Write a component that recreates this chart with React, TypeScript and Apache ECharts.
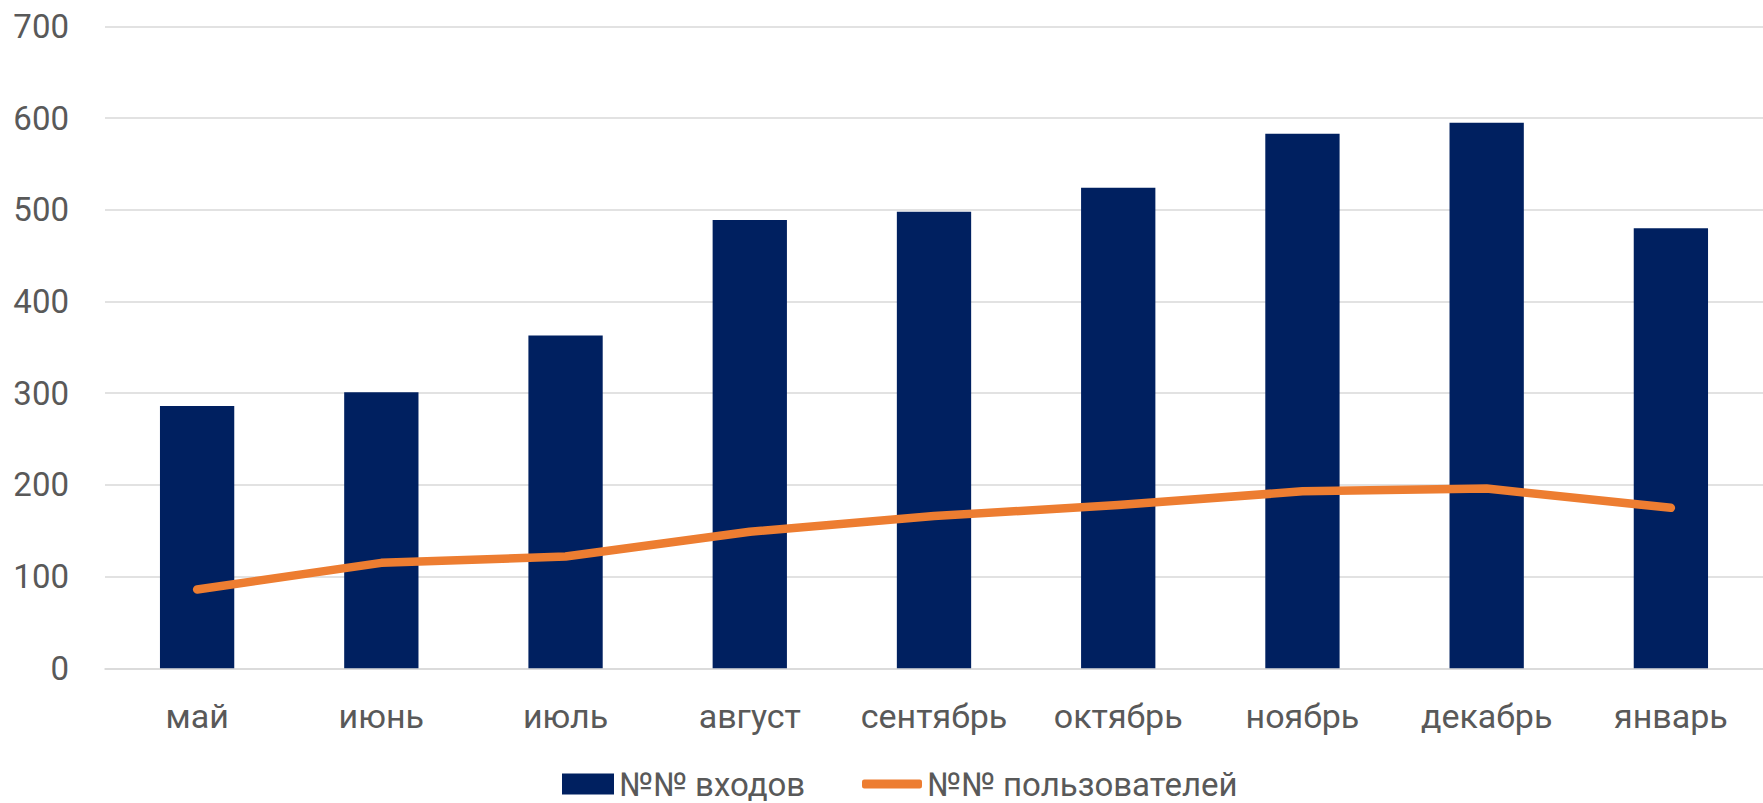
import React, { useEffect, useRef } from "react";
import * as echarts from "echarts";

const categories = ["май", "июнь", "июль", "август", "сентябрь", "октябрь", "ноябрь", "декабрь", "январь"];
const loginsName = "№№ входов";
const usersName = "№№ пользователей";
const logins = [286, 301, 363, 489, 498, 524, 583, 595, 480];
const users = [86, 115, 122, 149, 166, 178, 193, 196, 175];
const yTicks = { min: 0, max: 700, interval: 100 };

const FONT = "Roboto";
const TEXT = "#595959";

export default function App() {
  const ref = useRef<HTMLDivElement>(null);
  useEffect(() => {
    if (!ref.current) return;
    const chart = echarts.init(ref.current, undefined, { renderer: "svg" });
    chart.setOption({
      animation: false,
      backgroundColor: "#ffffff",
      grid: { left: 105, top: 26.5, width: 1667.7, height: 641.8, containLabel: false },
      legend: [
        {
          data: [{ name: loginsName, icon: "rect" }],
          left: 562,
          top: 766,
          padding: 0,
          itemWidth: 52,
          itemHeight: 21,
          textStyle: { color: TEXT, fontFamily: FONT, fontSize: 33, lineHeight: 36 },
        },
        {
          data: [{ name: usersName, icon: "roundRect" }],
          left: 862,
          top: 766,
          padding: 0,
          itemWidth: 60,
          itemHeight: 9,
          itemStyle: { color: "#ED7D31" },
          lineStyle: { width: 0 },
          textStyle: { color: TEXT, fontFamily: FONT, fontSize: 33, lineHeight: 36 },
        },
      ],
      xAxis: {
        type: "category",
        data: categories,
        axisLine: { show: true, lineStyle: { color: "#D9D9D9", width: 1.6 } },
        axisTick: { show: false },
        axisLabel: { color: TEXT, fontFamily: FONT, fontSize: 34, margin: 31, interval: 0 },
      },
      yAxis: {
        type: "value",
        min: yTicks.min,
        max: yTicks.max,
        interval: yTicks.interval,
        axisLine: { show: false },
        axisTick: { show: false },
        splitLine: { lineStyle: { color: "#D9D9D9", width: 1.6 } },
        axisLabel: { color: TEXT, fontFamily: FONT, fontSize: 33, margin: 36 },
      },
      series: [
        {
          name: loginsName,
          type: "bar",
          data: logins,
          barWidth: 74.3,
          itemStyle: { color: "#002060" },
        },
        {
          name: usersName,
          type: "line",
          data: users,
          symbol: "none",
          z: 5,
          lineStyle: { color: "#ED7D31", width: 8.5, cap: "round", join: "round" },
          itemStyle: { color: "#ED7D31" },
        },
      ],
    });
    return () => chart.dispose();
  }, []);
  return (
    <div
      ref={ref}
      style={{ position: "absolute", left: 0, top: 0, width: 1763, height: 803 }}
    />
  );
}
